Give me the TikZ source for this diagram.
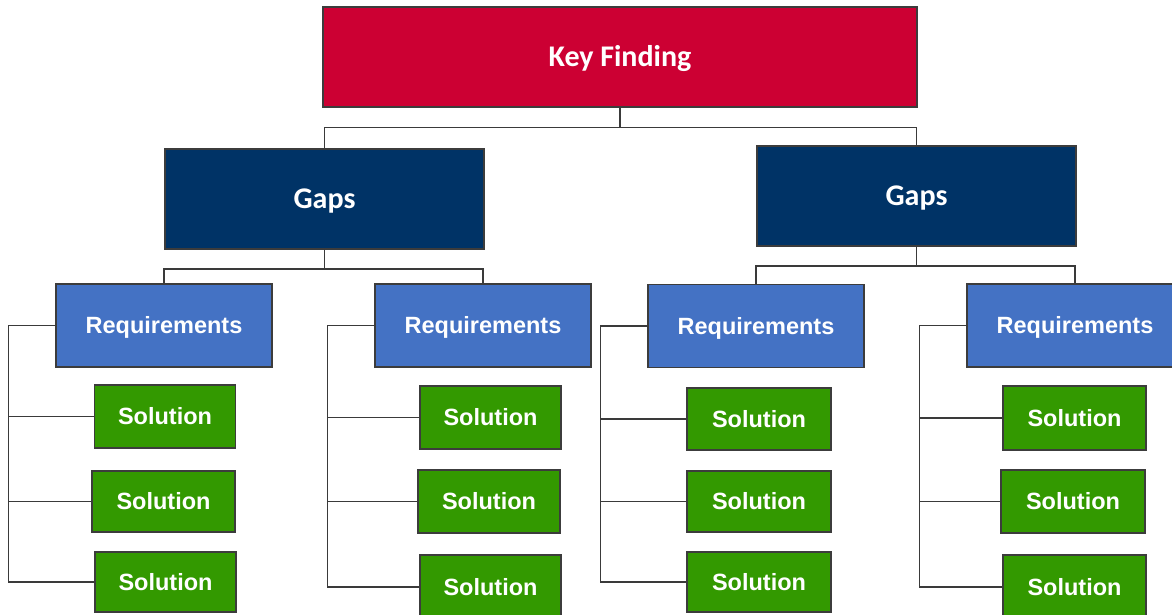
\documentclass[tikz,border=0pt]{standalone}
\usepackage{fontspec}
\setmainfont{Liberation Sans}
\newfontfamily\headfont{Carlito}
\begin{document}
\begin{tikzpicture}[x=1pt,y=-1pt,
  box/.style={draw=boxline, line width=1.8pt, text=white, inner sep=0pt, text depth=0pt},
  headtext/.style={font=\headfont\bfseries\fontsize{30}{34}\selectfont, text height=19.3pt},
  bodytext/.style={font=\bfseries\fontsize{23.5}{27}\selectfont, text height=16.8pt},
  keybox/.style={box, headtext, fill=keyred},
  gapbox/.style={box, headtext, fill=gapnavy, minimum width=319, minimum height=100},
  reqbox/.style={box, bodytext, fill=reqblue, minimum width=216, minimum height=83},
  solbox/.style={box, bodytext, fill=solgreen, minimum width=142, minimum height=62},
  link/.style={draw=linkgray, line width=1.2pt}]
\definecolor{keyred}{HTML}{CC0033}
\definecolor{gapnavy}{HTML}{003366}
\definecolor{reqblue}{HTML}{4472C4}
\definecolor{solgreen}{HTML}{339900}
\definecolor{boxline}{HTML}{3C3C3C}
\definecolor{linkgray}{HTML}{3A3A3A}

\useasboundingbox (0,0) rectangle (1172,615);
\clip (0,0) rectangle (1172,615);
\fill[white] (0,0) rectangle (1172,615);

% top level
\node[keybox, minimum width=594, minimum height=100] (kf) at (620,57) {Key Finding};

% gaps
\node[gapbox] (g1) at (324.5,199) {Gaps};
\node[gapbox] (g2) at (916.5,196) {Gaps};

% requirements
\node[reqbox] (r1) at (164,325.5) {Requirements};
\node[reqbox] (r2) at (483,325.5) {Requirements};
\node[reqbox] (r3) at (756,326) {Requirements};
\node[reqbox] (r4) at (1075,325.5) {Requirements};

% solutions
\node[solbox, minimum width=141, minimum height=63] (s11) at (165,416.5) {Solution};
\node[solbox, minimum width=143, minimum height=61] (s12) at (163.5,501.5) {Solution};
\node[solbox, minimum width=141, minimum height=60] (s13) at (165.5,582) {Solution};

\node[solbox, minimum width=141, minimum height=63] (s21) at (490.5,417.5) {Solution};
\node[solbox, minimum width=142, minimum height=63] (s22) at (489,501.5) {Solution};
\node[solbox, minimum width=141, minimum height=64] (s23) at (490.5,587) {Solution};

\node[solbox, minimum width=144, minimum height=62] (s31) at (759,419) {Solution};
\node[solbox, minimum width=144, minimum height=61] (s32) at (759,501.5) {Solution};
\node[solbox, minimum width=144, minimum height=60] (s33) at (759,582) {Solution};

\node[solbox, minimum width=143, minimum height=64] (s41) at (1074.5,418) {Solution};
\node[solbox, minimum width=144, minimum height=63] (s42) at (1073,501.5) {Solution};
\node[solbox, minimum width=143, minimum height=64] (s43) at (1074.5,587) {Solution};

% elbow connectors
\draw[link] (kf.south) -- ++(0,20) -| (g1.north);
\draw[link] (kf.south) -- ++(0,20) -| (g2.north);
\draw[link] (g1.south) -- ++(0,19) -| (r1.north);
\draw[link] (g1.south) -- ++(0,19) -| (r2.north);
\draw[link] (g2.south) -- ++(0,19) -| (r3.north);
\draw[link] (g2.south) -- ++(0,19) -| (r4.north);
\foreach \r/\a/\b/\c in {r1/s11/s12/s13, r2/s21/s22/s23, r3/s31/s32/s33, r4/s41/s42/s43}{
  \draw[link] (\r.west) -- ++(-47,0) |- (\a.west);
  \draw[link] (\r.west) -- ++(-47,0) |- (\b.west);
  \draw[link] (\r.west) -- ++(-47,0) |- (\c.west);
}
\end{tikzpicture}
\end{document}
